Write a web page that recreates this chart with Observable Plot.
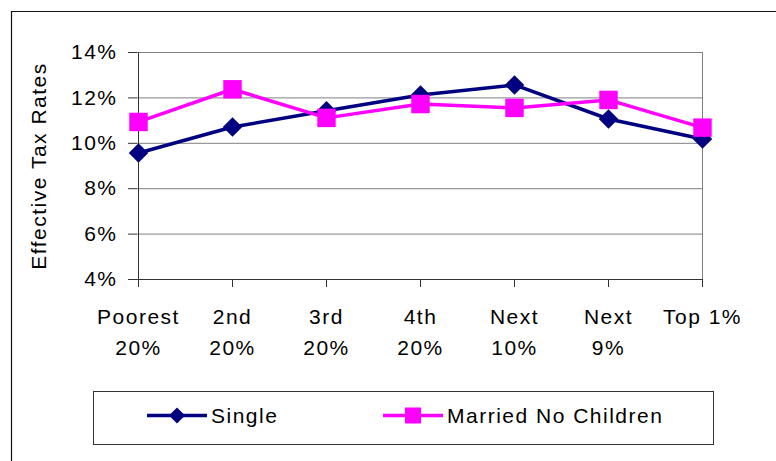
<!DOCTYPE html>
<html>
<head>
<meta charset="utf-8">
<script src="https://cdn.jsdelivr.net/npm/d3@7"></script>
<script src="https://cdn.jsdelivr.net/npm/@observablehq/plot@0.6"></script>
<style>
  html, body { margin: 0; padding: 0; background: #fff; }
  #chart { width: 776px; height: 461px; overflow: hidden; }
</style>
</head>
<body>
<div id="chart"></div>
<script>
// ---- data ----
const categories = ["Poorest 20%", "2nd 20%", "3rd 20%", "4th 20%", "Next 10%", "Next 9%", "Top 1%"];
const tickLabels = ["Poorest\n20%", "2nd\n20%", "3rd\n20%", "4th\n20%", "Next\n10%", "Next\n9%", "Top 1%"];
const single = [9.57, 10.72, 11.43, 12.13, 12.57, 11.07, 10.19];
const married = [10.94, 12.38, 11.12, 11.73, 11.56, 11.91, 10.69];
const yTicks = [4, 6, 8, 10, 12, 14];
const seriesNames = ["Single", "Married No Children"];
const yTitle = "Effective Tax Rates";

const singleData = categories.map((c, i) => ({cat: c, value: single[i]}));
const marriedData = categories.map((c, i) => ({cat: c, value: married[i]}));

const NAVY = "#000080", MAGENTA = "#FF00FF";

const plot = Plot.plot({
  width: 776,
  height: 461,
  marginTop: 52,
  marginBottom: 182,
  marginLeft: 137,
  marginRight: 73,
  style: {fontFamily: "'Liberation Sans', Arial, sans-serif", fontSize: "21px", letterSpacing: "1.5px", color: "#000", background: "#fff"},
  x: {type: "point", domain: categories, padding: 0},
  y: {domain: [4, 14]},
  marks: [
    Plot.gridY(yTicks, {stroke: "#808080", strokeOpacity: 1}),
    Plot.ruleX([categories[categories.length - 1]], {stroke: "#808080"}),
    Plot.ruleX([categories[0]], {stroke: "#333"}),
    Plot.ruleY([4], {stroke: "#333"}),
    Plot.axisY(yTicks, {tickSize: 9, tickPadding: 11, tickFormat: d => d + "%", stroke: "#333", fill: "#000", label: null}),
    Plot.axisX(categories, {tickSize: 8, tickPadding: 14, tickFormat: (d) => tickLabels[categories.indexOf(d)], lineHeight: 1.5, stroke: "#333", fill: "#000", label: null}),
    Plot.text([yTitle], {frameAnchor: "left", textAnchor: "middle", dx: -98, rotate: -90, fill: "#000"}),
    Plot.line(singleData, {x: "cat", y: "value", stroke: NAVY, strokeWidth: 3.5}),
    Plot.dot(singleData, {x: "cat", y: "value", symbol: "diamond2", r: 8.8, fill: NAVY, stroke: "none"}),
    Plot.line(marriedData, {x: "cat", y: "value", stroke: MAGENTA, strokeWidth: 3.5}),
    Plot.dot(marriedData, {x: "cat", y: "value", symbol: "square", r: 10.4, fill: MAGENTA, stroke: "none"})
  ]
});

document.getElementById("chart").appendChild(plot);

// ---- outer border and legend ----
const svg = d3.select(plot);
svg.append("path")
  .attr("d", "M11.5,461 V11.5 H776")
  .attr("fill", "none").attr("stroke", "#111").attr("stroke-width", 1.2);

const lg = svg.append("g");
lg.append("rect")
  .attr("x", 93.5).attr("y", 391.5).attr("width", 620).attr("height", 53)
  .attr("fill", "#fff").attr("stroke", "#333").attr("stroke-width", 1);

const legendItems = [
  {name: seriesNames[0], color: NAVY, x0: 147, x1: 207, sym: d3.symbolDiamond2, size: 16, tx: 211},
  {name: seriesNames[1], color: MAGENTA, x0: 383, x1: 443, sym: d3.symbolSquare, size: 16, tx: 447}
];
const ly = 415.5;
legendItems.forEach(it => {
  lg.append("line").attr("x1", it.x0).attr("x2", it.x1).attr("y1", ly).attr("y2", ly)
    .attr("stroke", it.color).attr("stroke-width", 3.5);
  const cx = (it.x0 + it.x1) / 2;
  let area;
  if (it.sym === d3.symbolDiamond2) { const r = it.size / 2; area = (r / 0.62625) ** 2; }
  else { area = it.size * it.size; }
  lg.append("path").attr("d", d3.symbol(it.sym, area)())
    .attr("transform", `translate(${cx},${ly})`).attr("fill", it.color);
  lg.append("text").attr("x", it.tx).attr("y", ly).attr("dy", "0.35em")
    .attr("text-anchor", "start").attr("fill", "#000").text(it.name);
});
</script>
</body>
</html>
